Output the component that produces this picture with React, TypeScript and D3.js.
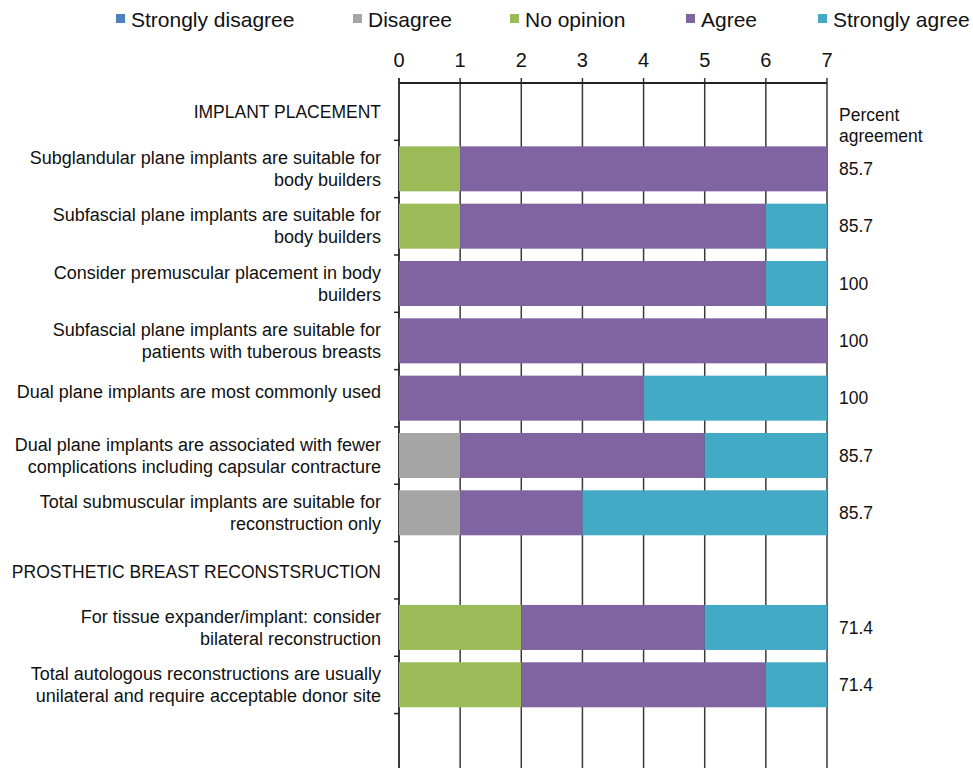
import React from "react";
import * as d3 from "d3";

const rowLabels: string[][] = [
  ["IMPLANT PLACEMENT"],
  ["Subglandular plane implants are suitable for", "body builders"],
  ["Subfascial plane implants are suitable for", "body builders"],
  ["Consider premuscular placement in body", "builders"],
  ["Subfascial plane implants are suitable for", "patients with tuberous breasts"],
  ["Dual plane implants are most commonly used"],
  ["Dual plane implants are associated with fewer", "complications including capsular contracture"],
  ["Total submuscular implants are suitable for", "reconstruction only"],
  ["PROSTHETIC BREAST RECONSTSRUCTION"],
  ["For tissue expander/implant: consider", "bilateral reconstruction"],
  ["Total autologous reconstructions are usually", "unilateral and require acceptable donor site"],
];
const headerRows = [0, 8];

const seriesNames = ["Strongly disagree", "Disagree", "No opinion", "Agree", "Strongly agree"];
const seriesColors = ["#4F81BD", "#A5A5A5", "#9BBB59", "#8064A2", "#43AAC6"];

const stronglyDisagree = [0, 0, 0, 0, 0, 0, 0, 0, 0, 0, 0];
const disagree = [0, 0, 0, 0, 0, 0, 1, 1, 0, 0, 0];
const noOpinion = [0, 1, 1, 0, 0, 0, 0, 0, 0, 2, 2];
const agree = [0, 6, 5, 6, 7, 4, 4, 2, 0, 3, 4];
const stronglyAgree = [0, 0, 1, 1, 0, 3, 2, 4, 0, 2, 1];

const percentAgreement = ["", "85.7", "85.7", "100", "100", "100", "85.7", "85.7", "", "71.4", "71.4"];
const xTicks = [0, 1, 2, 3, 4, 5, 6, 7];

const W = 973;
const H = 768;
const FONT = "'Liberation Sans', Arial, sans-serif";
const legendX = [116, 353, 510, 686, 818];

export default function App() {
  const x = d3.scaleLinear().domain([0, 7]).range([399, 827]);
  const idx = rowLabels.map((_, i) => String(i));
  const y = d3.scaleBand().domain(idx).range([83, 713.3]).paddingInner(0.215).paddingOuter(0.105);
  const step = y.step();

  const table = rowLabels.map((_, i) => ({
    key: String(i),
    "Strongly disagree": stronglyDisagree[i],
    Disagree: disagree[i],
    "No opinion": noOpinion[i],
    Agree: agree[i],
    "Strongly agree": stronglyAgree[i],
  }));
  const stacked = d3.stack<any>().keys(seriesNames)(table);

  const bandTop = (i: number) => 83 + i * step;
  const boundaries = d3.range(1, rowLabels.length + 2).map((i) => bandTop(i));

  return (
    <svg width={W} height={H} style={{ position: "absolute", left: 0, top: 0, background: "#fff" }} fontFamily={FONT}>
      {/* legend */}
      {seriesNames.map((s, i) => (
        <g key={s}>
          <rect x={legendX[i]} y={14} width={9} height={9} fill={seriesColors[i]} />
          <text x={legendX[i] + 15} y={19} fontSize={21} dominantBaseline="central" fill="#111">
            {s}
          </text>
        </g>
      ))}
      {/* grid lines */}
      {xTicks.map((t) => (
        <line key={"g" + t} x1={x(t)} x2={x(t)} y1={78} y2={H} stroke="#3a3a3a" strokeWidth={t === 0 ? 2 : 1.5} />
      ))}
      {/* top axis */}
      <line x1={x(0)} x2={x(7)} y1={83} y2={83} stroke="#222" strokeWidth={2} />
      {xTicks.map((t) => (
        <text key={"t" + t} x={x(t)} y={60} fontSize={20} textAnchor="middle" dominantBaseline="central" fill="#111">
          {t}
        </text>
      ))}
      {/* left ticks */}
      {boundaries.map((b, i) => (
        <line key={"lt" + i} x1={394} x2={399} y1={b} y2={b} stroke="#222" strokeWidth={1.5} />
      ))}
      {/* bars */}
      {stacked.map((layer, si) => (
        <g key={layer.key} fill={seriesColors[si]}>
          {layer.map((d, i) =>
            d[1] - d[0] > 0 ? (
              <rect
                key={i}
                x={x(d[0])}
                y={y(String(i))}
                width={x(d[1]) - x(d[0])}
                height={y.bandwidth()}
              />
            ) : null
          )}
        </g>
      ))}
      {/* left labels */}
      {rowLabels.map((lines, i) => {
        const isHeader = headerRows.includes(i);
        const cy = bandTop(i) + step / 2 + (!isHeader && lines.length === 1 ? -6 : isHeader && i > 0 ? 1.5 : 0);
        return lines.map((ln, j) => (
          <text
            key={i + "-" + j}
            x={381}
            y={cy + (j - (lines.length - 1) / 2) * 22}
            fontSize={isHeader ? 17.5 : 18}
            textAnchor="end"
            dominantBaseline="central"
            fill="#111"
          >
            {ln}
          </text>
        ));
      })}
      {/* right labels */}
      <text x={839} y={115} fontSize={17.5} dominantBaseline="central" fill="#111">Percent</text>
      <text x={839} y={136} fontSize={17.5} dominantBaseline="central" fill="#111">agreement</text>
      {percentAgreement.map((p, i) =>
        p ? (
          <text key={"p" + i} x={839} y={bandTop(i) + step / 2} fontSize={17.5} dominantBaseline="central" fill="#111">
            {p}
          </text>
        ) : null
      )}
    </svg>
  );
}
